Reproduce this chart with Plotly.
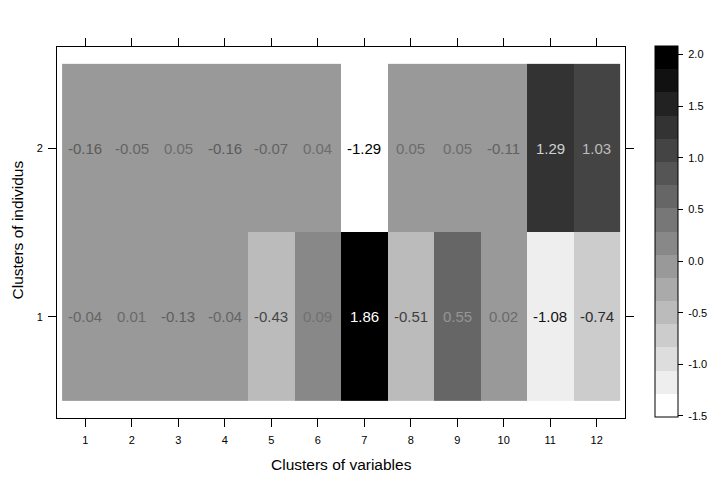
import plotly.graph_objects as go

# Data
var_clusters = [1, 2, 3, 4, 5, 6, 7, 8, 9, 10, 11, 12]
ind_clusters = [1, 2]
row1 = [-0.04, 0.01, -0.13, -0.04, -0.43, 0.09, 1.86, -0.51, 0.55, 0.02, -1.08, -0.74]
row2 = [-0.16, -0.05, 0.05, -0.16, -0.07, 0.04, -1.29, 0.05, 0.05, -0.11, 1.29, 1.03]
cbar_ticks = [-1.5, -1.0, -0.5, 0.0, 0.5, 1.0, 1.5, 2.0]

z = [row1, row2]

# discrete 16-level gray scale (white -> black)
zmin, nlev, width = -1.51, 16, 0.2245
zmax = zmin + nlev * width
grays = [round(255 - i * 17) for i in range(nlev)]
cs = []
for i, g in enumerate(grays):
    c = f"rgb({g},{g},{g})"
    cs.append([i / nlev, c])
    cs.append([(i + 1) / nlev, c])

NB = "\u00a0"
fig = go.Figure()
fig.add_trace(go.Heatmap(
    x=var_clusters, y=ind_clusters, z=z,
    zmin=zmin, zmax=zmax, colorscale=cs,
    showscale=True, hoverinfo="skip",
    colorbar=dict(
        thickness=23, len=1.0, lenmode="fraction",
        x=(655 - 57) / 568, xanchor="left", xpad=0,
        y=(418 - 46) / 371, yanchor="top", ypad=0,
        outlinewidth=1, outlinecolor="black",
        tickvals=cbar_ticks, ticktext=[NB + f"{v:.1f}" for v in cbar_ticks],
        ticks="outside", ticklen=5, tickcolor="black", tickwidth=1,
        tickfont=dict(family="Liberation Sans", size=11, color="black"),
    ),
))

# cell labels, colored by value (dark for low, light for high)
allv = row1 + row2
vmin, vmax = min(allv), max(allv)
for yv, row in zip(ind_clusters, z):
    for xv, v in zip(var_clusters, row):
        g = round((v - vmin) / (vmax - vmin) * 255)
        fig.add_annotation(x=xv, y=yv, text=f"{v:.2f}", showarrow=False,
                           font=dict(family="Liberation Sans", size=15,
                                     color=f"rgb({g},{g},{g})"))

axis_common = dict(showline=True, linecolor="black", linewidth=1, mirror="allticks",
                   ticks="outside", ticklen=8, tickcolor="black", tickwidth=1,
                   showgrid=False, zeroline=False,
                   tickfont=dict(family="Liberation Sans", size=11, color="black"))

fig.update_xaxes(range=[0.39, 12.61], tickvals=var_clusters,
                 ticktext=[str(v) for v in var_clusters], ticklabelstandoff=4,
                 **axis_common)
fig.update_yaxes(range=[0.4, 2.6], tickvals=ind_clusters,
                 ticktext=[str(v) for v in ind_clusters], ticklabelstandoff=3,
                 **axis_common)

fig.add_annotation(text="Clusters of variables", xref="paper", yref="paper",
                   x=(341 - 57) / 568, y=-(465 - 418) / 371, showarrow=False,
                   xanchor="center", yanchor="middle",
                   font=dict(family="Liberation Sans", size=15.5, color="black"))
fig.add_annotation(text="Clusters of individus", xref="paper", yref="paper",
                   x=-(57 - 16.5) / 568, y=(418 - 230) / 371, showarrow=False,
                   textangle=-90, xanchor="center", yanchor="middle",
                   font=dict(family="Liberation Sans", size=15.5, color="black"))

fig.update_layout(width=720, height=486,
                  margin=dict(l=57, r=95, t=47, b=68, autoexpand=False),
                  paper_bgcolor="white", plot_bgcolor="white",
                  showlegend=False)

fig.write_html("out.html")
